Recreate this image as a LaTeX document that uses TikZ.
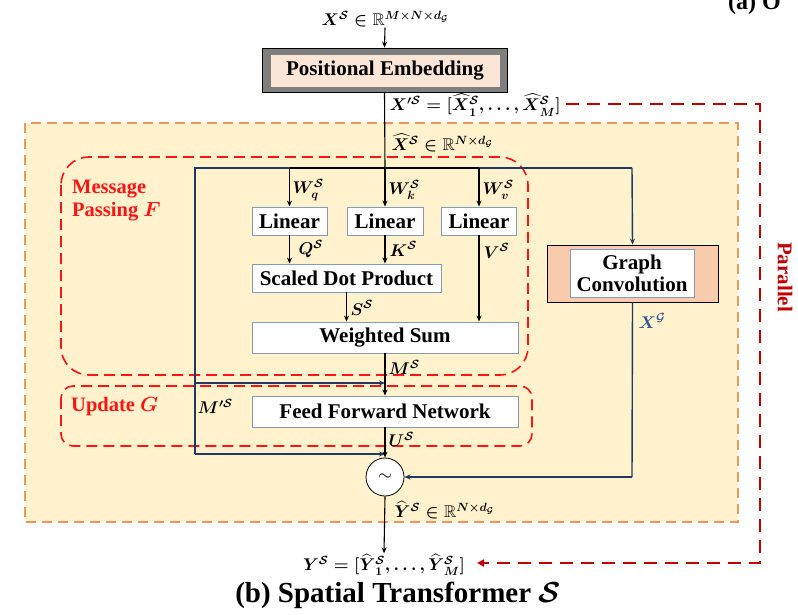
\RequirePackage{fix-cm}
\documentclass[tikz,border=0pt]{standalone}
\usepackage{amsmath,amssymb}
\usepackage{bm}
\usepackage{fontspec}
\setmainfont{Liberation Serif}
\usetikzlibrary{arrows.meta,calc}
\definecolor{orfill}{RGB}{255,242,204}
\definecolor{ordash}{RGB}{240,150,90}
\definecolor{mpred}{RGB}{255,20,20}
\definecolor{darkred}{RGB}{192,0,0}
\definecolor{navy}{RGB}{32,56,100}
\definecolor{boxblue}{RGB}{130,155,185}
\definecolor{pefill}{RGB}{251,229,214}
\definecolor{pegray}{RGB}{127,127,127}
\definecolor{gcfill}{RGB}{248,203,173}
\definecolor{xblue}{RGB}{47,85,151}
\newcommand{\mS}{\bm{\mathcal{S}}}
\tikzset{
  box/.style={draw=boxblue, fill=white, line width=0.9pt, inner sep=0pt,
    font=\fontsize{21}{23}\selectfont\bfseries},
  lbl/.style={font=\fontsize{17}{20}\selectfont\boldmath, inner sep=0.5pt},
  arr/.style={-{Stealth[length=6pt,width=5pt]}, line width=1.1pt},
  navyln/.style={draw=navy, line width=1.4pt},
  navyarr/.style={navyln, -{Stealth[length=6pt,width=5pt]}},
  redbox/.style={draw=mpred, line width=1.6pt, dash pattern=on 11pt off 6pt},
  redlbl/.style={text=mpred, font=\fontsize{20.5}{23}\selectfont\bfseries\boldmath, inner sep=0pt, align=left}
}
\begin{document}
\begin{tikzpicture}[x=1pt,y=-1pt]
\useasboundingbox (0,0) rectangle (798,615);
% outer orange area
\fill[orfill] (25,123) rectangle (738,522);
\draw[ordash, line width=1.5pt, dash pattern=on 10pt off 6pt] (25,123) rectangle (738,522);
% message passing / update regions
\draw[redbox, rounded corners=28pt] (61,157) rectangle (528,375);
\draw[redbox, rounded corners=12pt] (61,386) rectangle (532,446);
\node[redlbl, anchor=west] (mplbl) at (72,201) {Message\\Passing $\bm{F}$};
\node[redlbl, anchor=west] (uplbl) at (71,407) {Update $\bm{G}$};

% top input
\node[lbl] (xin) at (385,19) {$\bm{X}^{\mS}\in\mathbb{R}^{\bm{M\times N\times d_{\mathcal{G}}}}$};
% positional embedding
\node[draw=black, fill=pegray, line width=0.8pt, minimum width=245pt, minimum height=44pt, inner sep=0pt] (pe) at (384.5,70) {};
\node[draw=pegray, fill=pefill, minimum width=230pt, minimum height=33pt, inner sep=0pt,
  font=\fontsize{21}{23}\selectfont\bfseries] (pein) at (385,70.5) {Positional Embedding};
\draw[arr] (xin.south) -- (pe.north);

% boxes
\node[box, minimum width=75pt, minimum height=28pt] (lq) at (289.5,221) {Linear};
\node[box, minimum width=76pt, minimum height=28pt] (lk) at (385,221) {Linear};
\node[box, minimum width=75pt, minimum height=28pt] (lv) at (479,221) {Linear};
\node[box, minimum width=189pt, minimum height=28pt] (sdp) at (346.5,278) {Scaled Dot Product};
\node[box, minimum width=266pt, minimum height=31pt] (ws) at (385,337.5) {Weighted Sum};
\node[box, minimum width=266pt, minimum height=31pt] (ffn) at (385,411.5) {Feed Forward Network};
% graph convolution
\node[draw=black, fill=gcfill, line width=0.8pt, minimum width=171pt, minimum height=57pt, inner sep=0pt] (gco) at (632.5,273.5) {};
\node[box, minimum width=124pt, minimum height=48pt, align=center, font=\fontsize{21}{22}\selectfont\bfseries] (gc) at (632,273) {Graph\\Convolution};
% combiner
\node[circle, draw=black, fill=white, line width=0.8pt, minimum size=38pt, inner sep=0pt,
  font=\fontsize{18}{20}\selectfont] (c) at (385,477) {$\sim$};

% coordinates
\coordinate (j) at (385,168);
\coordinate (bl) at (195,168);
\coordinate (br) at (632,168);
\coordinate (mlL) at (195,383);
\coordinate (mlR) at (385,383);
\coordinate (ulL) at (195,454);
\coordinate (ulR) at (385,454);
\coordinate (gcd) at (632,477);

% navy connectors (below black)
\draw[navyln] (j) -- (bl) -- (ulL);
\draw[navyarr] (mlL) -- (mlR);
\draw[navyarr] (ulL) -- (ulR);
\draw[navyln] (j) -- (br);
\draw[navyarr] (br) -- (gco.north);
\draw[navyln] (gco.south) -- (gcd);
\draw[navyarr] (gcd) -- (c.east);

% black connectors
\draw[line width=1.1pt] (pe.south) -- (j);
\draw[line width=1.1pt] (lq.north |- j) -- (lv.north |- j);
\draw[arr] (lq.north |- j) -- (lq.north);
\draw[arr] (j) -- (lk.north);
\draw[arr] (lv.north |- j) -- (lv.north);
\draw[arr] (lq.south) -- (lq.south |- sdp.north);
\draw[arr] (lk.south) -- (lk.south |- sdp.north);
\draw[arr] (lv.south) -- (lv.south |- ws.north);
\draw[arr] (sdp.south) -- (sdp.south |- ws.north);
\draw[arr] (ws.south) -- (ffn.north);
\draw[arr] (ffn.south) -- (c.north);

% output
\node[lbl] (yout) at (384,565) {$\bm{Y}^{\mS}=[\widehat{\bm{Y}}{}^{\mS}_{\bm 1},\dots,\widehat{\bm{Y}}{}^{\mS}_{\bm M}]$};
\draw[arr] (c.south) -- (yout.north);

% labels
\node[lbl, anchor=west] (xp) at (389,105) {$\bm{X}'^{\mS}=[\widehat{\bm{X}}{}^{\mS}_{\bm 1},\dots,\widehat{\bm{X}}{}^{\mS}_{\bm M}]$};
\node[lbl, anchor=west] (xh) at (391,143) {$\widehat{\bm{X}}{}^{\mS}\in\mathbb{R}^{\bm{N\times d_{\mathcal{G}}}}$};
\node[lbl, anchor=west] (wq) at (292,190) {$\bm{W}^{\mS}_{\bm q}$};
\node[lbl, anchor=west] (wk) at (388,190) {$\bm{W}^{\mS}_{\bm k}$};
\node[lbl, anchor=west] (wv) at (482,190) {$\bm{W}^{\mS}_{\bm v}$};
\node[lbl, anchor=west] (qs) at (298,249) {$\bm{Q}^{\mS}$};
\node[lbl, anchor=west] (ks) at (389,249) {$\bm{K}^{\mS}$};
\node[lbl, anchor=west] (vs) at (483,251) {$\bm{V}^{\mS}$};
\node[lbl, anchor=west] (ss) at (350,308) {$\bm{S}^{\mS}$};
\node[lbl, anchor=west] (ms) at (388,367) {$\bm{M}^{\mS}$};
\node[lbl, anchor=west] (mps) at (197,406) {$\bm{M}'^{\mS}$};
\node[lbl, anchor=west] (us) at (388,439) {$\bm{U}^{\mS}$};
\node[lbl, anchor=west, text=xblue] (xg) at (638,321) {$\bm{X}^{\mathcal{G}}$};
\node[lbl, anchor=west] (yh) at (394,510) {$\widehat{\bm{Y}}{}^{\mS}\in\mathbb{R}^{\bm{N\times d_{\mathcal{G}}}}$};

% parallel path
\coordinate (p0) at (566,104);
\coordinate (p1) at (760,104);
\coordinate (p2) at (760,563);
\coordinate (p3) at (477,563);
\draw[darkred, line width=2pt, dash pattern=on 13pt off 8pt, -{Triangle[length=7pt,width=7pt]}] (p0) -- (p1) -- (p2) -- (p3);
\node[rotate=-90, text=darkred, font=\fontsize{21}{23}\selectfont\bfseries] (par) at (785,277) {Parallel};

% captions
\node[font=\fontsize{29}{32}\selectfont\bfseries, inner sep=0pt] (cap) at (398,595) {(b) Spatial Transformer $\mS$};
\node[font=\fontsize{24}{28}\selectfont\bfseries, inner sep=0pt, anchor=west] (capa) at (728,4) {(a) O};
\end{tikzpicture}
\end{document}
